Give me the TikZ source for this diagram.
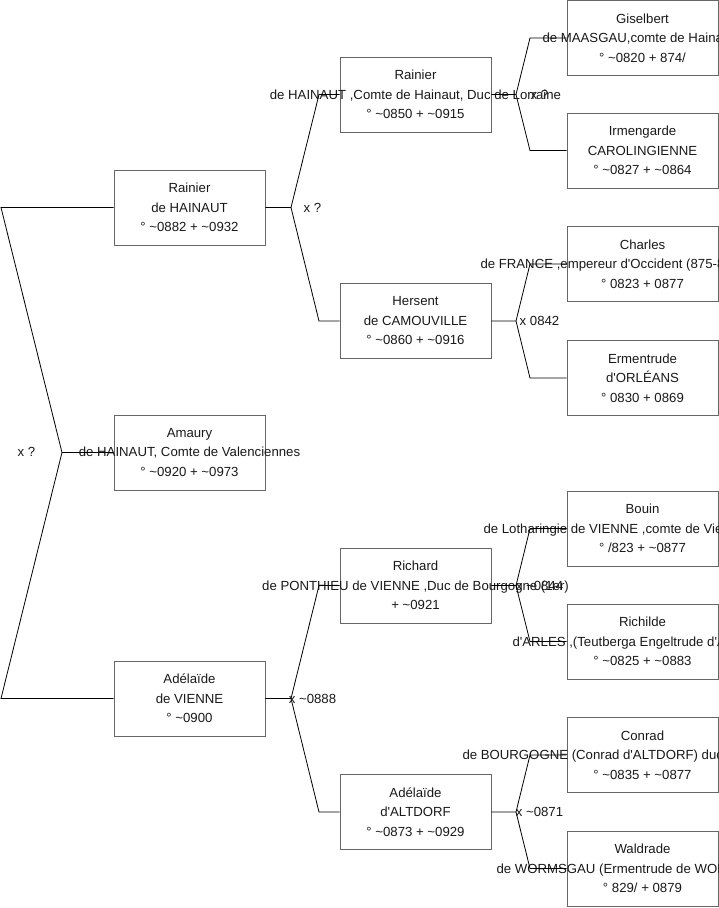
\documentclass[tikz,border=0pt]{standalone}
\usepackage{fontspec}
\setmainfont{Liberation Sans}[Ligatures=TeXOff]
\newcommand{\tld}{\textasciitilde}
\newcommand{\pl}[1]{\makebox[0pt]{#1}}
\newcommand{\pleft}[2]{\makebox[0pt][l]{\hspace{-#1pt}#2}}
\begin{document}
\begin{tikzpicture}[x=1pt,y=-1pt,
  person/.style={draw=black!60, line width=0.9pt, minimum width=151pt, minimum height=75pt,
    inner sep=0pt, align=center, font=\fontsize{13.2}{19.5}\selectfont, text=black!90},
  link/.style={draw=black, line width=0.8pt},
  union/.style={font=\fontsize{13.2}{16}\selectfont, inner sep=0pt, text=black!90}]
\useasboundingbox (0,0) rectangle (719,908);
\clip (0,0) rectangle (719,908);

% generation 1
\node[person] (g1a) at (189.5,207.5) {\pl{Rainier}\\\pl{de HAINAUT}\\\pl{° \tld0882 + \tld0932}};
\node[person] (g1b) at (189.5,452.5) {\pl{Amaury}\\\pl{de HAINAUT, Comte de Valenciennes}\\\pl{° \tld0920 + \tld0973}};
\node[person] (g1c) at (189.5,698.5) {\pl{Adélaïde}\\\pl{de VIENNE}\\\pl{° \tld0900}};

% generation 2
\node[person] (g2a) at (415.5,94.5) {\pl{Rainier}\\\pl{de HAINAUT ,Comte de Hainaut, Duc de Lorraine}\\\pl{° \tld0850 + \tld0915}};
\node[person] (g2b) at (415.5,321) {\pl{Hersent}\\\pl{de CAMOUVILLE}\\\pl{° \tld0860 + \tld0916}};
\node[person] (g2c) at (415.5,585.5) {\pl{Richard}\\\pl{de PONTHIEU de VIENNE ,Duc de Bourgogne (1er)}\\\pl{+ \tld0921}};
\node[person] (g2d) at (415.5,812) {\pl{Adélaïde}\\\pl{d'ALTDORF}\\\pl{° \tld0873 + \tld0929}};

% generation 3
\node[person] (g3a) at (642.5,38) {\pl{Giselbert}\\\pleft{100}{de MAASGAU,comte de Hainaut}\\\pl{° \tld0820 + 874/}};
\node[person] (g3b) at (642.5,150.5) {\pl{Irmengarde}\\\pl{CAROLINGIENNE}\\\pl{° \tld0827 + \tld0864}};
\node[person] (g3c) at (642.5,264) {\pl{Charles}\\\pleft{162}{de FRANCE ,empereur d'Occident (875-877)}\\\pl{° 0823 + 0877}};
\node[person] (g3d) at (642.5,378) {\pl{Ermentrude}\\\pl{d'ORLÉANS}\\\pl{° 0830 + 0869}};
\node[person] (g3e) at (642.5,528.5) {\pl{Bouin}\\\pleft{159}{de Lotharingie de VIENNE ,comte de Vienne}\\\pl{° /823 + \tld0877}};
\node[person] (g3f) at (642.5,641.5) {\pl{Richilde}\\\pleft{130}{d'ARLES ,(Teutberga Engeltrude d'Arles)}\\\pl{° \tld0825 + \tld0883}};
\node[person] (g3g) at (642.5,755) {\pl{Conrad}\\\pleft{180}{de BOURGOGNE (Conrad d'ALTDORF) duc}\\\pl{° \tld0835 + \tld0877}};
\node[person] (g3h) at (642.5,868.5) {\pl{Waldrade}\\\pleft{146}{de WORMSGAU (Ermentrude de WORMS)}\\\pl{° 829/ + 0879}};

% fork points
\coordinate (v0) at (62,452.5);  \coordinate (r0a) at (1,207.5);  \coordinate (r0b) at (1,698.5);
\coordinate (v1) at (291,207.5); \coordinate (e1a) at (319,94.5); \coordinate (e1b) at (319,321);
\coordinate (v2) at (291,698.5); \coordinate (e2a) at (319,585.5);\coordinate (e2b) at (319,812);
\coordinate (v3) at (516,94.5);  \coordinate (e3a) at (530,38);   \coordinate (e3b) at (530,150.5);
\coordinate (v4) at (516,321);   \coordinate (e4a) at (530,264);  \coordinate (e4b) at (530,378);
\coordinate (v5) at (516,585.5); \coordinate (e5a) at (530,528.5);\coordinate (e5b) at (530,641.5);
\coordinate (v6) at (516,812);   \coordinate (e6a) at (530,755);  \coordinate (e6b) at (530,868.5);

% connectors
\draw[link] (g1b.west) -- (v0) -- (r0a) -- (g1a.west);
\draw[link] (v0) -- (r0b) -- (g1c.west);
\draw[link] (g1a.east) -- (v1) -- (e1a) -- (g2a.west);
\draw[link] (v1) -- (e1b) -- (g2b.west);
\draw[link] (g1c.east) -- (v2) -- (e2a) -- (g2c.west);
\draw[link] (v2) -- (e2b) -- (g2d.west);
\draw[link] (g2a.east) -- (v3) -- (e3a) -- (g3a.west);
\draw[link] (v3) -- (e3b) -- (g3b.west);
\draw[link] (g2b.east) -- (v4) -- (e4a) -- (g3c.west);
\draw[link] (v4) -- (e4b) -- (g3d.west);
\draw[link] (g2c.east) -- (v5) -- (e5a) -- (g3e.west);
\draw[link] (v5) -- (e5b) -- (g3f.west);
\draw[link] (g2d.east) -- (v6) -- (e6a) -- (g3g.west);
\draw[link] (v6) -- (e6b) -- (g3h.west);

% union labels
\node[union] (u0) at (26.5,451.5) {x ?};
\node[union] (u1) at (312.5,207.5) {x ?};
\node[union] (u2) at (312.5,698.5) {x \tld0888};
\node[union] (u3) at (539.5,94.5) {x ?};
\node[union] (u4) at (539.5,320.5) {x 0842};
\node[union] (u5) at (539.5,585.5) {x \tld0844};
\node[union] (u6) at (539.5,811.5) {x \tld0871};
\end{tikzpicture}
\end{document}
